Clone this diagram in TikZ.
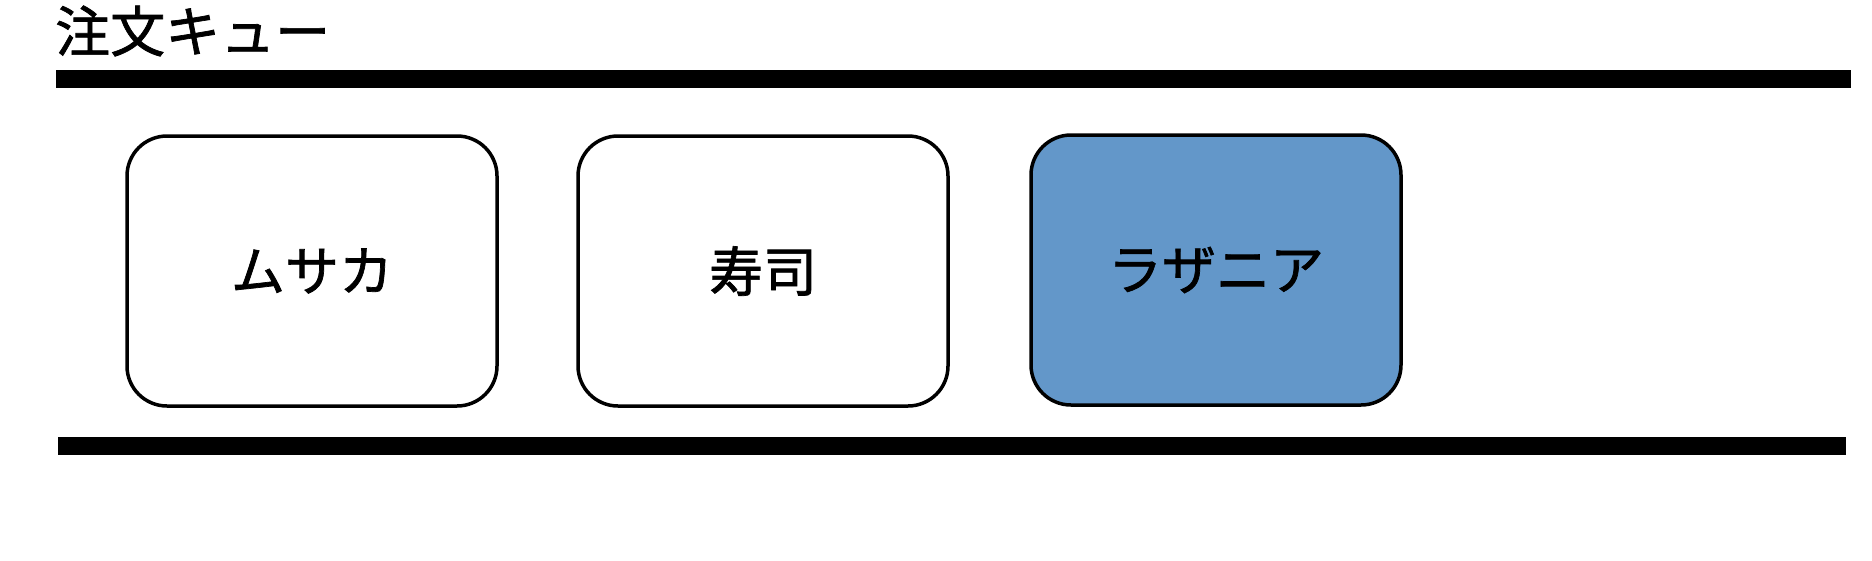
\documentclass[tikz,border=0pt]{standalone}
\usepackage{fontspec}
\newfontfamily\jp[FakeBold=1.3]{Noto Sans CJK JP}
\definecolor{boxblue}{HTML}{6397C9}
\tikzset{
  bar/.style={line width=18pt},
  item/.style={draw=black, line width=3.5pt, rounded corners=40pt, minimum width=370pt, minimum height=270pt, font=\jp\fontsize{54}{60}\selectfont, inner sep=0pt},
}
\begin{document}
\begin{tikzpicture}[x=1pt,y=-1pt]
\useasboundingbox (0,0) rectangle (1872,560);
\node[anchor=west, font=\jp\fontsize{55}{60}\selectfont, inner sep=0pt] (title) at (55,31) {注文キュー};
\coordinate (tl) at (56,79);
\coordinate (tr) at (1851,79);
\coordinate (bl) at (58,446);
\coordinate (br) at (1846,446);
\draw[bar] (tl) -- (tr);
\draw[bar] (bl) -- (br);
\node[item, fill=white] (a) at (312,271) {ムサカ};
\node[item, fill=white] (b) at (763,271) {寿司};
\node[item, fill=boxblue] (c) at (1216,270) {ラザニア};
\end{tikzpicture}
\end{document}
